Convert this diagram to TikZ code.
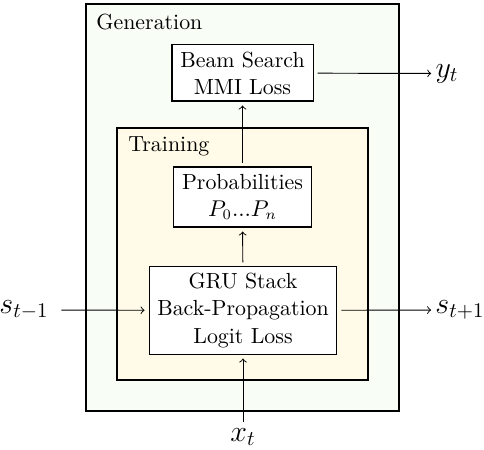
\documentclass[tikz,border=0pt]{standalone}
\usetikzlibrary{arrows}
\definecolor{genfill}{RGB}{248,253,246}
\definecolor{trainfill}{RGB}{255,251,232}
\begin{document}
\begin{tikzpicture}[x=0.48pt,y=-0.48pt,
  box/.style={draw,fill=white,line width=0.5pt,align=center,inner sep=0pt,font=\fontsize{10.5}{13}\selectfont},
  frame/.style={draw,line width=1pt,inner sep=0pt},
  lbl/.style={inner sep=0pt,font=\Large},
  arr/.style={->,line width=0.45pt,shorten <=1.9pt, shorten >=1.9pt}]
\useasboundingbox (0,0) rectangle (484,450);
\node[frame,fill=genfill,minimum width=150.2pt,minimum height=195.4pt] (gen) at (242.5,207.5) {};
\node[inner sep=0pt,anchor=west,font=\fontsize{10.5}{13}\selectfont] (genl) at (96,22) {Generation};
\node[frame,fill=trainfill,minimum width=120.5pt,minimum height=121pt] (train) at (242.5,254) {};
\node[inner sep=0pt,anchor=west,font=\fontsize{10.5}{13}\selectfont] (trainl) at (128,146) {Training};
\node[box,minimum width=67.7pt,minimum height=26.9pt] (beam) at (242.5,73) {Beam Search\\MMI Loss};
\node[box,minimum width=65.8pt,minimum height=28.8pt] (prob) at (242.5,197) {Probabilities\\$P_0 ... P_n$};
\node[box,minimum width=90.2pt,minimum height=41.8pt] (gru) at (243,310.5) {GRU Stack\\Back-Propagation\\Logit Loss};
\node[lbl] (yt) at (447,73.5) {$y_t$};
\node[lbl] (sm) at (24,310) {$s_{t-1}$};
\node[lbl] (sp) at (460,310) {$s_{t+1}$};
\node[lbl] (xt) at (243,437) {$x_t$};
\draw[arr] (prob) -- (beam);
\draw[arr] (gru) -- (prob);
\draw[arr] (beam) -- (yt);
\draw[arr,shorten <=6pt] (sm) -- (gru);
\draw[arr] (gru) -- (sp);
\draw[arr,shorten <=3pt] (xt) -- (gru);
\end{tikzpicture}
\end{document}
